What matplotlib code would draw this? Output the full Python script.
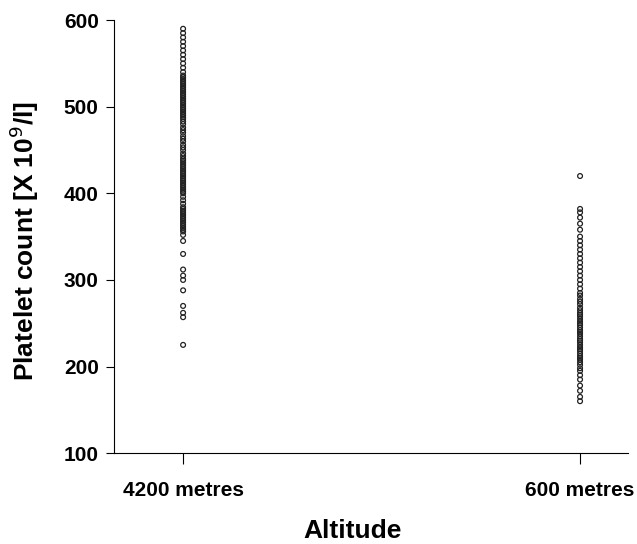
import matplotlib
matplotlib.use("Agg")
import matplotlib.pyplot as plt

# Platelet counts
grupos = ['4200 metres', '600 metres']

plaq_4200 = [
    225, 257, 262, 270, 288, 300, 305, 312, 330, 345, 352, 356, 358, 360, 362,
    364, 366, 368, 370, 372, 374, 376, 378, 380, 382, 384, 388, 392, 396, 400,
    402, 404, 406, 408, 410, 412, 414, 416, 418, 420, 422, 424, 426, 428, 430,
    432, 434, 436, 438, 440, 443, 446, 450, 453, 456, 460, 463, 466, 470, 473,
    476, 480, 483, 486, 488, 490, 492, 494, 496, 498, 500, 502, 504, 506, 508,
    510, 512, 514, 516, 518, 520, 522, 524, 526, 528, 530, 532, 534, 536, 540,
    545, 550, 555, 560, 565, 570, 575, 580, 585, 590
]

plaq_600 = [
    160, 165, 172, 178, 185, 190, 195, 198, 202, 205, 208, 210, 212, 215, 218,
    220, 222, 225, 228, 230, 232, 235, 238, 240, 242, 245, 248, 250, 252, 255,
    258, 260, 262, 265, 268, 272, 275, 278, 282, 285, 290, 295, 300, 305, 310,
    315, 320, 325, 330, 335, 340, 345, 350, 358, 365, 372, 378, 382, 420
]

plt.rcParams['font.family'] = ['Liberation Sans', 'DejaVu Sans']

fig = plt.figure(figsize=(6.37, 5.44), dpi=100)
ax = fig.add_axes([0.179, 0.167, 0.807, 0.796])

for i, vals in enumerate([plaq_4200, plaq_600]):
    ax.scatter([i] * len(vals), vals, s=12, facecolors='none',
               edgecolors='#222222', linewidths=0.9)

ax.set_xlim(-0.174, 1.121)
ax.set_ylim(100, 600)
ax.set_yticks([100, 200, 300, 400, 500, 600])
ax.set_xticks([0, 1])
ax.set_xticklabels(grupos)

ax.spines['top'].set_visible(False)
ax.spines['right'].set_visible(False)
ax.tick_params(axis='y', direction='out', length=6, labelsize=15, pad=5)
ax.tick_params(axis='x', direction='out', length=8, labelsize=15, pad=12)
for lab in ax.get_xticklabels() + ax.get_yticklabels():
    lab.set_fontweight('bold')

ax.set_xlabel('Altitude', fontsize=19, fontweight='bold')
ax.xaxis.set_label_coords(0.463, -0.152)
ax.set_ylabel('Platelet count [X 10$^9$/l]', fontsize=19, fontweight='bold')
ax.yaxis.set_label_coords(-0.143, 0.49)

fig.savefig('out.png', dpi=100)
